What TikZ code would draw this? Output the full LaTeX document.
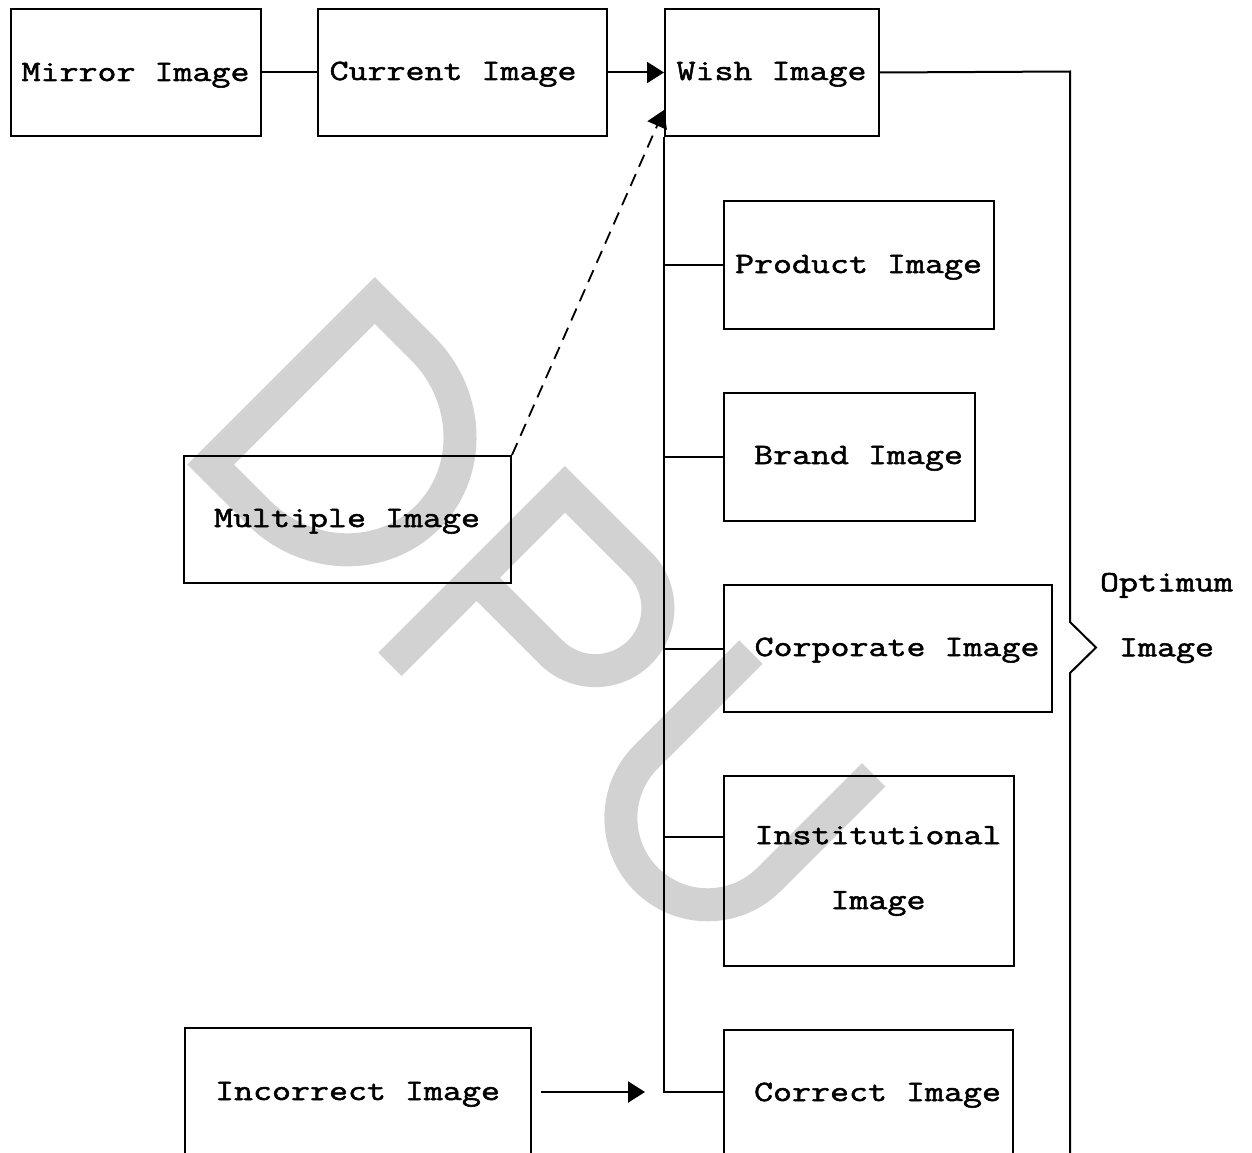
\documentclass[tikz,border=0pt]{standalone}
\usepackage{fontspec}
\newfontfamily\lblfont[FakeStretch=1.25, FakeBold=1.8]{Latin Modern Mono}
\usetikzlibrary{arrows.meta}
\begin{document}
\begin{tikzpicture}[x=1pt,y=-1pt,
  box/.style={draw, line width=2pt, inner sep=0pt, anchor=north west},
  lbl/.style={font=\lblfont\fontsize{29.5}{65}\selectfont, inner sep=0pt, anchor=base},
  link/.style={line width=2pt},
  tip/.style={-{Triangle[length=17pt,width=21pt]}},
  wm/.style={line width=33pt, draw=gray!35, line join=miter, line cap=butt}]
\useasboundingbox (0,0) rectangle (1252,1153);
\clip (0,0) rectangle (1252,1153);

% watermark letters D, P, U, set along a diagonal
\begin{scope}[rotate=-45, x=1pt, y=1pt]
  \draw[wm] (477.5,-179.5) -- (477.5,52.5) -- (545,52.5)
    arc[start angle=90, end angle=-90, x radius=123, y radius=116] -- cycle;
  \draw[wm] (745.5,-194) -- (745.5,53.5) -- (851,53.5)
    arc[start angle=90, end angle=-90, radius=62.5] -- (745.5,-71.5);
  \draw[wm] (992,70) -- (992,-78)
    arc[start angle=180, end angle=360, radius=86.8] -- (1165.6,70);
\end{scope}

% boxes
\node[box, minimum width=250pt, minimum height=127pt] (mirror) at (10,8) {};
\node[box, minimum width=289pt, minimum height=127pt] (current) at (317,8) {};
\node[box, minimum width=214pt, minimum height=127pt] (wish) at (664,8) {};
\node[box, minimum width=270pt, minimum height=128pt] (product) at (723,200) {};
\node[box, minimum width=251pt, minimum height=128pt] (brand) at (723,392) {};
\node[box, minimum width=328pt, minimum height=127pt] (corporate) at (723,584) {};
\node[box, minimum width=290pt, minimum height=190pt] (inst) at (723,775) {};
\node[box, minimum width=289pt, minimum height=131pt] (correct) at (723,1029) {};
\node[box, minimum width=327pt, minimum height=127pt] (multiple) at (183,455) {};
\node[box, minimum width=346pt, minimum height=133pt] (incorrect) at (184,1027) {};

% labels
\node[lbl] (mirror-t) at (135.5,81) {Mirror Image};
\node[lbl] (current-t) at (453,80) {Current Image};
\node[lbl] (wish-t) at (771.5,80) {Wish Image};
\node[lbl] (product-t) at (858.5,273) {Product Image};
\node[lbl] (brand-t) at (858.5,464) {Brand Image};
\node[lbl] (multiple-t) at (347,527) {Multiple Image};
\node[lbl] (corporate-t) at (897,656) {Corporate Image};
\node[lbl, anchor=center, align=center] (inst-t) at (878,871) {Institutional\\Image};
\node[lbl] (incorrect-t) at (357.5,1100) {Incorrect Image};
\node[lbl] (correct-t) at (877.5,1101) {Correct Image};
\node[lbl, anchor=center, align=center] (optimum-t) at (1166.5,618) {Optimum\\Image};

% connectors
\coordinate (jc) at (664,1092);
\coordinate (bInst) at (664,837);
\coordinate (dashEnd) at (664,110);
\coordinate (braceTop) at (1070,71.5);
\coordinate (braceA) at (1070,622);
\coordinate (braceTip) at (1096,647.5);
\coordinate (braceB) at (1070,673);
\coordinate (braceEnd) at (1070,1160);

\draw[link] (mirror.east) -- (current.west);
\draw[link, tip] (current.east) -- (wish.west);
\draw[link] (wish.east) -- (braceTop) -- (braceA) -- (braceTip) -- (braceB) -- (braceEnd);
\draw[link] (wish.south west) -- (jc) -- (correct.west |- jc);
\draw[link] (wish.south west |- product.west) -- (product.west);
\draw[link] (wish.south west |- brand.west) -- (brand.west);
\draw[link] (wish.south west |- corporate.west) -- (corporate.west);
\draw[link] (bInst) -- (inst.west |- bInst);
\draw[line width=1.8pt, dash pattern=on 13pt off 8pt, tip] (multiple.north east) -- (dashEnd);
\draw[link, tip, shorten <=9pt, shorten >=19pt] (incorrect.east |- jc) -- (jc);
\end{tikzpicture}
\end{document}
